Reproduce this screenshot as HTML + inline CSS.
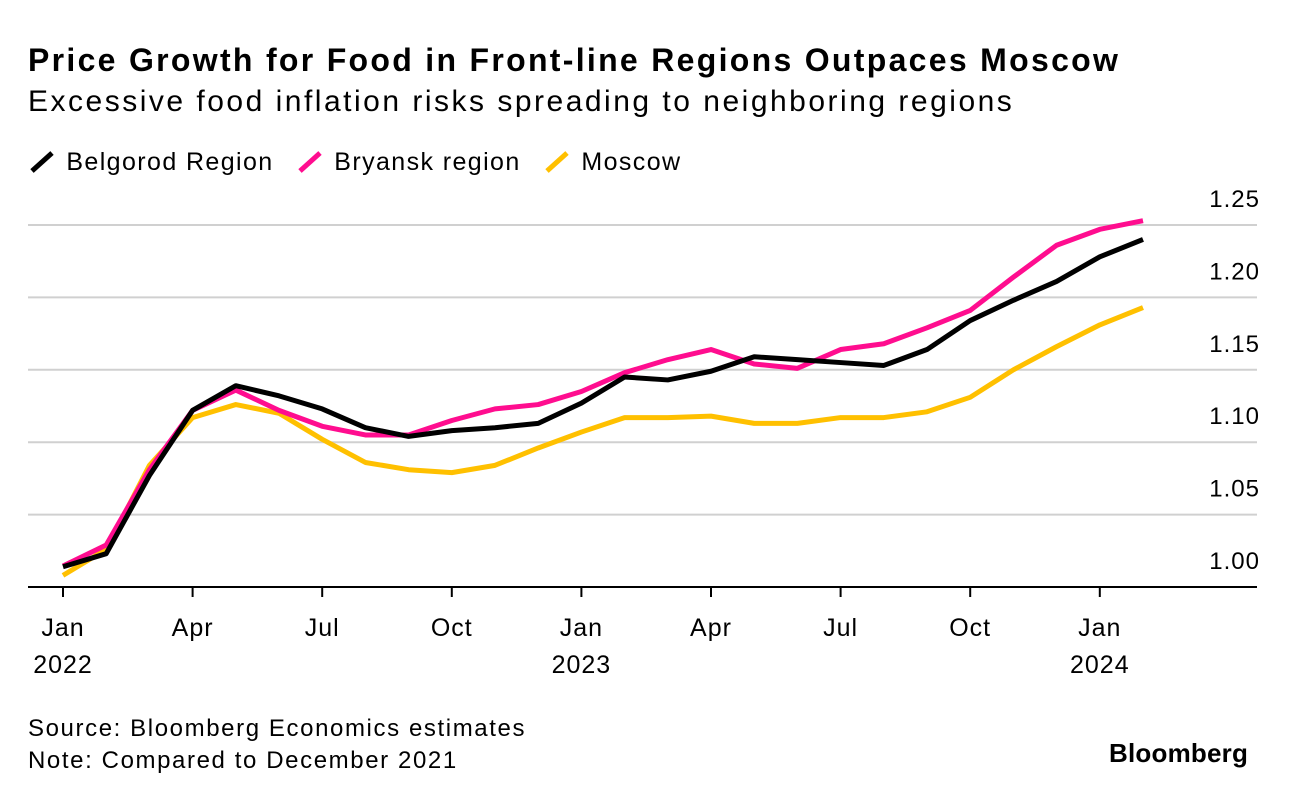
<!DOCTYPE html>
<html><head><meta charset="utf-8"><style>
body{margin:0;background:#fff;font-family:"Liberation Sans",sans-serif;color:#000}
#w{position:relative;width:1289px;height:798px;overflow:hidden}
.t{position:absolute;white-space:nowrap}
</style></head><body>
<div id="w">
<div class="t" style="left:28px;top:42px;font-size:32px;font-weight:bold;letter-spacing:2.3px">Price Growth for Food in Front-line Regions Outpaces Moscow</div>
<div class="t" style="left:28px;top:85px;font-size:30px;letter-spacing:2.5px">Excessive food inflation risks spreading to neighboring regions</div>
<div class="t" style="left:28px;top:148px;font-size:25px;letter-spacing:1.4px">
<span><svg width="30" height="22" style="vertical-align:-3px"><line x1="4" y1="20" x2="24" y2="2" stroke="#000" stroke-width="5"/></svg> Belgorod Region</span>
<span style="margin-left:14px"><svg width="30" height="22" style="vertical-align:-3px"><line x1="4" y1="20" x2="24" y2="2" stroke="#ff0d8f" stroke-width="5"/></svg> Bryansk region</span>
<span style="margin-left:14px"><svg width="30" height="22" style="vertical-align:-3px"><line x1="4" y1="20" x2="24" y2="2" stroke="#ffc000" stroke-width="5"/></svg> Moscow</span>
</div>
<svg id="c" width="1289" height="798" style="position:absolute;left:0;top:0"></svg>
<div class="t" style="left:28px;top:713px;font-size:24px;line-height:32px;letter-spacing:1.6px">Source: Bloomberg Economics estimates<br>Note: Compared to December 2021</div>
<div class="t" style="left:1109px;top:738px;font-size:26px;font-weight:bold;letter-spacing:0.2px">Bloomberg</div>
</div>
<script>
const yTicks=[1.00,1.05,1.10,1.15,1.20,1.25];
const yTickLabels=["1.00","1.05","1.10","1.15","1.20","1.25"];
const xTickMonths=[0,3,6,9,12,15,18,21,24];
const xTickLabels=["Jan\n2022","Apr","Jul","Oct","Jan\n2023","Apr","Jul","Oct","Jan\n2024"];
const belgorod=[1.014,1.023,1.077,1.122,1.139,1.132,1.123,1.110,1.104,1.108,1.110,1.113,1.127,1.145,1.143,1.149,1.159,1.157,1.155,1.153,1.164,1.184,1.198,1.211,1.228,1.240];
const bryansk=[1.0145,1.029,1.081,1.122,1.136,1.122,1.111,1.105,1.105,1.115,1.123,1.126,1.135,1.148,1.157,1.164,1.154,1.151,1.164,1.168,1.179,1.191,1.214,1.236,1.247,1.253];
const moscow=[1.008,1.026,1.084,1.117,1.126,1.120,1.102,1.086,1.081,1.079,1.084,1.096,1.107,1.117,1.117,1.118,1.113,1.113,1.117,1.117,1.121,1.131,1.150,1.166,1.181,1.193];
const NS='http://www.w3.org/2000/svg';
const svg=document.getElementById('c');
const x=m=>63+m*43.2;
const y=v=>587-(v-1)/0.05*72.4;
function mk(t,a){const e=document.createElementNS(NS,t);for(const k in a)e.setAttribute(k,a[k]);svg.appendChild(e);return e;}
yTicks.forEach((v,i)=>{
 const l=mk('line',{x1:28,x2:1257,y1:y(v),y2:y(v),stroke:i==0?'#000':'#d0d0d0','stroke-width':2});
 
 
 const t=mk('text',{x:1260,y:y(v)-18,'text-anchor':'end','font-size':24,'letter-spacing':1,'font-family':'Liberation Sans'});
 t.textContent=yTickLabels[i];
 
 
});
xTickMonths.forEach((m,i)=>{
 const tk=mk('line',{x1:x(m),x2:x(m),y1:587,y2:597,stroke:'#000','stroke-width':2});
 
 
 xTickLabels[i].split('\n').forEach((s,j)=>{
  const t=mk('text',{x:x(m),y:636+j*37,'text-anchor':'middle','font-size':25,'letter-spacing':1,'font-family':'Liberation Sans'});
  t.textContent=s;
  
  
 });
});
[[moscow,'#ffc000','moscow-line'],[bryansk,'#ff0d8f','bryansk-line'],[belgorod,'#000','belgorod-line']].forEach(([d,c,n])=>{
 const p=mk('polyline',{points:d.map((v,i)=>x(i)+','+y(v)).join(' '),fill:'none',stroke:c,'stroke-width':5,'stroke-linejoin':'round'});
 
 
});
</script>
</body></html>
